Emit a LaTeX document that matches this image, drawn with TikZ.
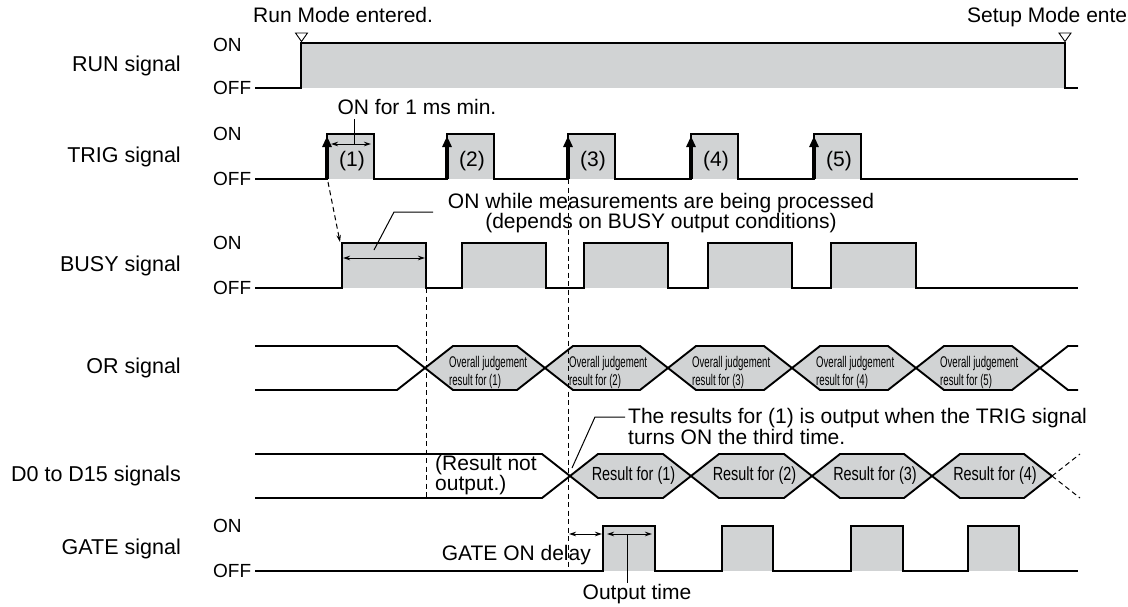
\documentclass[tikz,border=0pt]{standalone}
\usepackage{fontspec}
\setmainfont{Liberation Sans}
\usepackage{graphicx}
\usetikzlibrary{arrows.meta}
\definecolor{sgray}{HTML}{D1D3D4}
\begin{document}
\begin{tikzpicture}[x=1pt,y=-1pt,
  sig/.style={line width=1.9pt, line join=miter},
  txt/.style={inner sep=0pt, font=\fontsize{21}{20}\selectfont},
  lbl/.style={inner sep=0pt, font=\fontsize{21.5}{20}\selectfont, anchor=east},
  onoff/.style={inner sep=0pt, font=\fontsize{19}{20}\selectfont, anchor=west},
  cond/.style={inner sep=0pt, font=\fontsize{15.5}{18}\selectfont, align=left, anchor=west},
  rcond/.style={inner sep=0pt, font=\fontsize{19}{18}\selectfont},
  vdash/.style={line width=1pt, dash pattern=on 5pt off 3.5pt},
  thinln/.style={line width=1pt},
  dbl/.style={line width=1pt, {Stealth[length=7pt,width=4.5pt]}-{Stealth[length=7pt,width=4.5pt]}},
  trigarr/.style={line width=3.2pt, -{Triangle[length=11pt,width=9pt]}},
  tri/.style={line width=0.9pt, fill=white}
]
\useasboundingbox (0,0) rectangle (1128,606);

% ---------- left labels ----------
\node[lbl] (lrun)  at (181,66)  {RUN signal};
\node[lbl] (ltrig) at (181,157) {TRIG signal};
\node[lbl] (lbusy) at (181,266) {BUSY signal};
\node[lbl] (lor)   at (181,368) {OR signal};
\node[lbl] (ld)    at (181,476) {D0 to D15 signals};
\node[lbl] (lgate) at (181,549) {GATE signal};

\foreach \nm/\hy/\ly in {run/45/88, trig/134/179, busy/243/288, gate/526/571}{
  \node[onoff] (on\nm)  at (213,\hy) {ON};
  \node[onoff] (off\nm) at (213,\ly) {OFF};
}

% ---------- RUN ----------
\fill[sgray] (301,43) rectangle (1065,88);
\draw[sig] (255,88) -- (301,88) -- (301,43) -- (1065,43) -- (1065,88) -- (1078,88);
\draw[tri] (295.5,33) -- (307.5,33) -- (301.5,41.5) -- cycle;
\draw[tri] (1059,33) -- (1071,33) -- (1065,41.5) -- cycle;
\node[txt, anchor=west] (runm) at (253,15) {Run Mode entered.};
\node[txt, anchor=west] (setm) at (967,17) {Setup Mode entered.};

% ---------- TRIG ----------
\foreach \x/\n in {327/1,447/2,568/3,691/4,814/5}{
  \fill[sgray] (\x,134) rectangle (\x+47,179);
  \node[txt] (tn\n) at (\x+25,161) {(\n)};
}
\draw[sig] (255,179) -- (327,179) -- (327,134) -- (374,134) -- (374,179)
  -- (447,179) -- (447,134) -- (494,134) -- (494,179)
  -- (568,179) -- (568,134) -- (615,134) -- (615,179)
  -- (691,179) -- (691,134) -- (738,134) -- (738,179)
  -- (814,179) -- (814,134) -- (861,134) -- (861,179) -- (1078,179);
\foreach \x in {327,447,568,691,814}{
  \draw[trigarr] (\x,179) -- (\x,136);
}
\node[txt] (onmin) at (417,107) {ON for 1 ms min.};
\coordinate (onminA) at (354,119);
\coordinate (onminB) at (354,144);
\draw[thinln] (onminA) -- (onminB);
\draw[dbl] (331,144) -- (371,144);

% ---------- BUSY ----------
\foreach \a/\b in {342/426,462/546,584/668,708/792,831/916}{
  \fill[sgray] (\a,243) rectangle (\b,288);
}
\draw[sig] (255,288) -- (342,288) -- (342,243) -- (426,243) -- (426,288)
  -- (462,288) -- (462,243) -- (546,243) -- (546,288)
  -- (584,288) -- (584,243) -- (668,243) -- (668,288)
  -- (708,288) -- (708,243) -- (792,243) -- (792,288)
  -- (831,288) -- (831,243) -- (916,243) -- (916,288) -- (1078,288);
\draw[dbl] (343,258) -- (425,258);
\draw[thinln] (374,250) -- (394,212) -- (433,212);
\node[txt, align=center, font=\fontsize{21}{20}\selectfont] (busyt) at (661,213)
  {ON while measurements are being processed\\(depends on BUSY output conditions)};
\draw[vdash, -{Stealth[length=7pt,width=4.5pt]}] (328,182) -- (340,242);

% ---------- OR ----------
\draw[sig] (255,346) -- (397,346) -- (425,368);
\draw[sig] (255,390) -- (397,390) -- (425,368);
\foreach \a/\b/\n in {425/545/1,545/668/2,668/792/3,792/916/4,916/1040/5}{
  \draw[sig, fill=sgray] (\a,368) -- (\a+28,346) -- (\b-28,346) -- (\b,368)
     -- (\b-28,390) -- (\a+28,390) -- cycle;
  \node[cond] (ort\n) at (\a+24,372)
    {\scalebox{0.62}[1]{Overall judgement}\\\scalebox{0.62}[1]{result for (\n)}};
}
\draw[sig] (1040,368) -- (1068,346) -- (1078,346);
\draw[sig] (1040,368) -- (1068,390) -- (1078,390);

% ---------- D0 to D15 ----------
\draw[sig] (255,454) -- (542,454) -- (570,476);
\draw[sig] (255,498) -- (542,498) -- (570,476);
\foreach \a/\b/\n in {570/691/1,691/812/2,812/932/3,932/1052/4}{
  \draw[sig, fill=sgray] (\a,476) -- (\a+28,454) -- (\b-28,454) -- (\b,476)
     -- (\b-28,498) -- (\a+28,498) -- cycle;
  \node[rcond] (dt\n) at ({(\a+\b)/2+3},476) {\scalebox{0.76}[1]{Result for (\n)}};
}
\draw[vdash] (1052,476) -- (1080,454);
\draw[vdash] (1052,476) -- (1080,498);
\node[txt, align=left, anchor=west] (notout) at (435,475) {(Result not\\output.)};
\node[txt, align=left, anchor=west, font=\fontsize{21}{19.5}\selectfont] (res1) at (628,426.5)
  {The results for (1) is output when the TRIG signal\\turns ON the third time.};
\draw[thinln] (572,468) -- (595,417) -- (625,417);

% ---------- GATE ----------
\foreach \a/\b in {603/655,722/773,851/903,968/1019}{
  \fill[sgray] (\a,526) rectangle (\b,571);
}
\draw[sig] (255,571) -- (603,571) -- (603,526) -- (655,526) -- (655,571)
  -- (722,571) -- (722,526) -- (773,526) -- (773,571)
  -- (851,571) -- (851,526) -- (903,526) -- (903,571)
  -- (968,571) -- (968,526) -- (1019,526) -- (1019,571) -- (1078,571);
\draw[dbl] (569,534) -- (602,534);
\draw[dbl] (607,534) -- (652,534);
\draw[thinln] (627,534) -- (627,583);
\node[txt, anchor=east] (gdelay) at (591,555) {GATE ON delay};
\node[txt] (otime) at (637,594) {Output time};

% ---------- dashed guides ----------
\draw[vdash] (426,288) -- (426,498);
\draw[vdash] (568,179) -- (568,571);

\end{tikzpicture}
\end{document}
